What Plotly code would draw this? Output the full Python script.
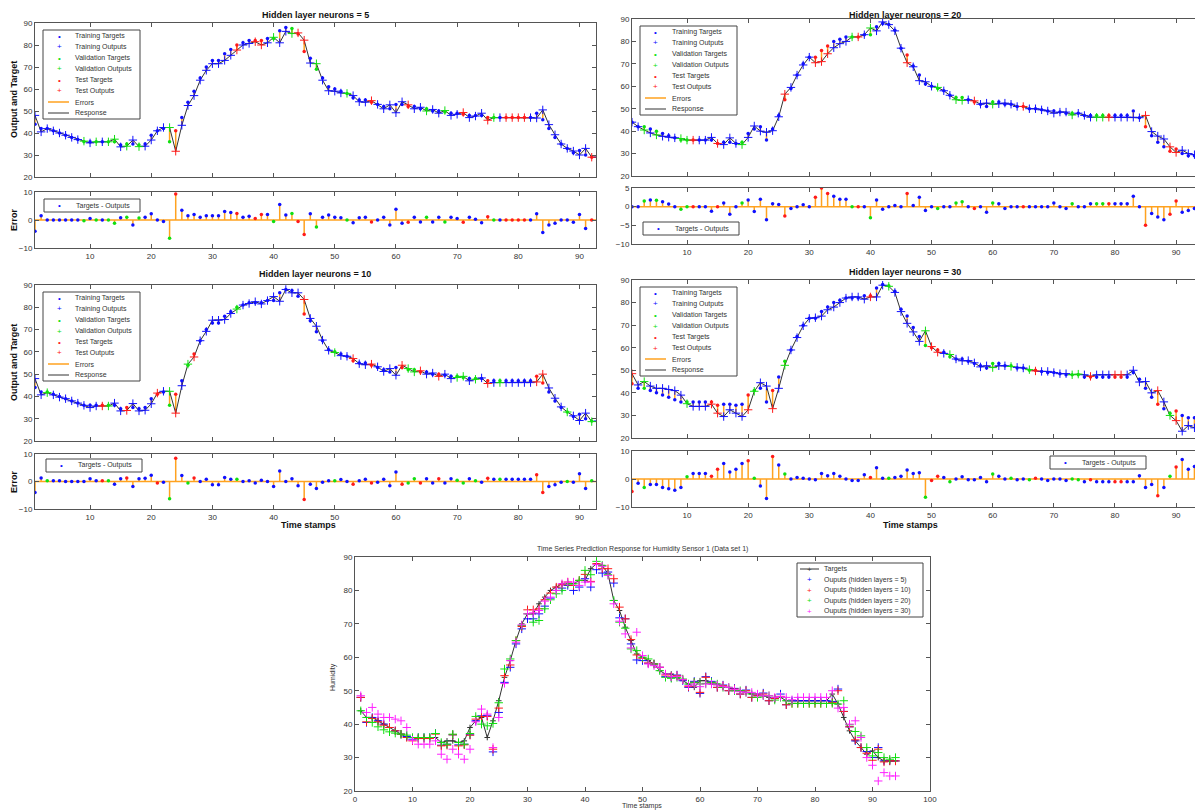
import plotly.graph_objects as go

# the page places the figure 8px in from the top-left corner (default body margin)
OFF = 8
W, H = 1203 - OFF, 811 - OFF

# ---------------- data ----------------
t_stamps = list(range(1, 95))
targets = [44, 42, 42, 41, 40, 39, 38, 37, 36, 36,
           36, 36, 36, 36, 34.5, 35, 35, 34.5, 35, 39,
           41, 42, 36, 41, 47, 54, 59, 65, 70, 73,
           73, 76, 78, 80, 81, 82, 82, 82, 83, 83,
           86.5, 88, 87.5, 85, 77, 74, 69, 65, 61, 60,
           59, 58, 56, 55, 55, 54, 53, 52, 51, 53,
           53, 52, 52, 51, 51, 50, 50, 49.5, 49, 49,
           48.5, 48, 48, 48, 47, 47, 47, 47, 47, 47,
           47, 47, 49, 46, 42, 38, 35, 33, 31, 32,
           30, 29, 29, 29]

# errors = targets - outputs, per network size
err_5 = [-4, 1.5, 0, 0, 0, 0, 0, 0, -0.3, 0.5,
         0, 0, 0, -1.2, 0.8, 1, -1.8, 0.7, 1, 2.2,
         0, -0.5, -6.5, 9.3, 3.5, 1.5, 2, 1, 1.5, 1.5,
         1.5, 3, 2.7, 2.3, 1, 1.3, 0.5, 2, 2, -0.5,
         5.5, 1.8, 2.3, -0.5, -5.2, 2.2, -2.5, 1, 1.8, 1,
         0.8, 0, -1, 0.8, 1, -0.7, 0, 1, -1.8, 3.8,
         -1.2, -0.8, 1, -0.7, 1, -0.7, 1, -0.7, 1, 0.5,
         -0.8, 1, 0.3, -1, 1.2, 0, 0, 0, 0, 0,
         0, 0, 2.2, -4.5, -1.8, -1.2, 0, 0, -0.8, 2,
         -3, 0, 0, 0]
err_10 = [-4, 1.3, 0.3, 0.3, 0.3, 0, 0, 0, 0, 1,
          0.3, 0.3, 0.3, -1, 1, 1.3, -1.8, 1, 1.2, 2.3,
          -0.5, -0.3, -6.3, 8.5, 2.2, -0.5, 1.3, 0, 0.8, -1.2,
          -1.2, 1.5, 0.8, 0.8, 0, 0.3, -0.5, 0.5, 0, -1.8,
          3.8, 0, 1, -1.5, -6.5, -1, -2.5, -0.3, 0.3, 0.3,
          0.7, 0, -1, 0.3, 0.8, -0.5, -0.3, 0.8, -1.5, 3.5,
          -1, -0.5, 1, -0.5, 1, -0.5, 1, -0.5, 1, 0.5,
          -0.5, 1, 0.3, -0.3, 1.2, 0.8, 0.8, 0.8, 0.8, 0.8,
          0.8, 0.8, 2.5, -4, -1.8, -1.2, -0.3, 0, -0.3, 2.8,
          -2.5, 0.3, 0, 0]
err_20 = [0, 0, 1.5, 1.8, 1.7, 1.3, 0.7, 0, -0.7, 0,
          0, 0, 0, -1.2, 0, 1, -2, 0, 1, 1.8,
          -1.3, 2, -3.5, 0.8, 0.6, -2.5, -0.5, 0, 0.5, 0,
          2.5, 5, 3.5, 2.8, 2, 2, 0, 0, 0, -3,
          1.8, -0.7, 0, 0.3, 0, 3.5, 0.3, 2.5, -1, 0,
          -0.5, 0, 0, 1, 1.3, 0, -0.5, 0, -1.5, 1,
          0.8, -0.5, 0, 0, 0, 0, 0, 0, 0, 1,
          0, -0.5, 0.8, 0, 0, 0.8, 0.8, 0.8, 0.8, 0.8,
          0.8, 0.8, 2.8, 0, -5, -1.8, -2.8, -3.5, -2, 1.5,
          -1.5, -1, -0.5, -1]
err_30 = [-4.5, -1.5, -3, -2, -2, -3, -3.5, -4, -3, 0.8,
          2, 2, 2, 1, 3.5, 5.5, 2.5, 3.5, 5.5, 6.5,
          0.3, -2.5, -7, 8, 5, 1.8, 0, 0.5, 0.3, 0,
          -0.3, 2, 1.2, 2, 1, 0, -0.5, -0.5, 1.5, 0.5,
          4, 0.3, 0.3, 0.5, 1, 3.2, 2, 2.2, -6.5, -0.5,
          1, 0.5, -1, 0, 0.8, -0.3, -0.3, 0.5, -1, 1.8,
          1, 0, 0.3, -0.3, 0, -0.3, 0.3, 0, -0.5, 0,
          0, -0.5, 0, -0.3, -1, -0.3, -1, -1, -1, -1,
          -1, -1, -1, 1.2, -3, -2, -6, -3, 1, 4.3,
          7, 3.5, 4.5, 4.5]

# data division: T = training, V = validation, S = test
split_5 = ("TTTTTTTTVT" "VTVVTVTVTT" "TTVSTTTTTT" "TTTSTTSSTV" "TTVSSTVTTT"
           "TVTTTSTTTT" "TSTTVTTVTT" "STTTSVTSSS" "STTTTTTTTT" "TSTT")
split_10 = ("TTVTTTTTTT" "TSVTTSTTTT" "STVSTVSTTT" "TTTVTTTTTT" "TTTTSTTTTV"
            "TTSTTSTTTT" "SVVSTTSTTV" "VTVTSTVTTT" "TTSSTTTVTT" "TVTT")
split_20 = ("TTVTVTTTVV" "STTTSTTTVT" "TTTTTSTTTT" "SSSTTTVSTV" "TTTTTSTTTT"
            "VTTVVTSTTV" "TTTTSTTTTT" "TTVTTTVVST" "TTTTSTTTSS" "TTTT")
split_30 = ("STVTTTTTTV" "TTTSSTTTTS" "VTTSTVTTTT" "TTTTTTTTTS" "TTVTTTTTVS"
            "STVTTTTTTV" "TTVTTVSTTT" "TTVVTSTTTS" "STTTTTSTVS" "TTTV")

main_yticks = [20, 30, 40, 50, 60, 70, 80, 90]
x_ticks = [10, 20, 30, 40, 50, 60, 70, 80, 90]
bottom_xticks = [0, 10, 20, 30, 40, 50, 60, 70, 80, 90, 100]
legend_main = ["Training Targets", "Training Outputs", "Validation Targets",
               "Validation Outputs", "Test Targets", "Test Outputs", "Errors", "Response"]
legend_bottom = ["Targets", "Ouputs (hidden layers = 5)", "Ouputs (hidden layers = 10)",
                 "Ouputs (hidden layers = 20)", "Ouputs (hidden layers = 30)"]

# ---------------- style ----------------
BLUE, GREEN, RED = "#1010FF", "#10E010", "#FF1A1A"
MAGENTA, ORANGE = "#FF20FF", "#FFA21F"
AXC = "#555555"
FONT = "Liberation Sans"
CAT_COLORS = [("T", BLUE), ("V", GREEN), ("S", RED)]


def px(x):
    return (x - OFF) / W


def py(y):
    return 1 - (y - OFF) / H


fig = go.Figure()

axis_common = dict(showline=True, linecolor=AXC, linewidth=1, ticks="inside", ticklen=4,
                   tickcolor=AXC, showgrid=False, zeroline=False, automargin=False,
                   tickfont=dict(size=8, color="#333", family=FONT))

# panels: (neurons, errors, split, main-axis index, err-axis index, x px range,
#          main y px range, err y px range, x range, err range, err ticks, title y)
panels = [
    (5, err_5, split_5, 1, 2, (35, 596), (23, 177), (192, 248), [1, 92.7], [-10, 10], [-10, 0, 10], 8),
    (20, err_20, split_20, 3, 4, (632, 1203), (19, 176), (188, 244), [1, 94.4], [-10, 5], [-10, -5, 0, 5], 8),
    (10, err_10, split_10, 5, 6, (35, 596), (285, 441), (454, 509), [1, 92.7], [-10, 10], [-10, 0, 10], 267),
    (30, err_30, split_30, 7, 8, (632, 1203), (280, 438), (451, 507), [1, 94.4], [-10, 10], [-10, 0, 10], 265),
]

layout_axes = {}
shapes = []
annotations = []


def axname(i, kind):
    return kind if i == 1 else f"{kind}{i}"


def ann(x, y, text, size=7, color="#222", xanchor="left", yanchor="middle", bold=False, angle=0):
    if bold:
        text = f"<b>{text}</b>"
    annotations.append(dict(x=px(x), y=py(y), xref="paper", yref="paper", text=text,
                            showarrow=False, xanchor=xanchor, yanchor=yanchor, textangle=angle,
                            font=dict(size=size, color=color, family=FONT)))


def box(x0, y0, x1, y1):
    shapes.append(dict(type="rect", xref="paper", yref="paper", x0=px(x0), x1=px(x1),
                       y0=py(y1), y1=py(y0), line=dict(color="#444", width=1),
                       fillcolor="white", layer="above"))


def hline(x0, x1, y, color, width=1.5):
    shapes.append(dict(type="line", xref="paper", yref="paper", x0=px(x0), x1=px(x1),
                       y0=py(y), y1=py(y), line=dict(color=color, width=width), layer="above"))


for (n, err, split, im, ie, xpx, ympx, eypx, xr, er, eticks, ty) in panels:
    outs = [t - e for t, e in zip(targets, err)]
    xm, ym = axname(im, "x"), axname(im, "y")
    xe, ye = axname(ie, "x"), axname(ie, "y")
    right = xpx[0] > 600

    # --- main subplot ---
    sx, sy = [], []
    for x, t, o in zip(t_stamps, targets, outs):
        sx += [x, x, None]
        sy += [t, o, None]
    fig.add_trace(go.Scatter(x=sx, y=sy, mode="lines", line=dict(color=ORANGE, width=1.5),
                             xaxis=xm, yaxis=ym, showlegend=False, hoverinfo="skip"))
    fig.add_trace(go.Scatter(x=t_stamps, y=outs, mode="lines", line=dict(color="#333", width=1),
                             xaxis=xm, yaxis=ym, showlegend=False))
    for code, col in CAT_COLORS:
        idx = [i for i, k in enumerate(split) if k == code]
        fig.add_trace(go.Scatter(x=[t_stamps[i] for i in idx], y=[targets[i] for i in idx],
                                 mode="markers", marker=dict(symbol="circle", size=3.5, color=col),
                                 xaxis=xm, yaxis=ym, showlegend=False))
        fig.add_trace(go.Scatter(x=[t_stamps[i] for i in idx], y=[outs[i] for i in idx],
                                 mode="markers",
                                 marker=dict(symbol="cross-thin", size=6, line=dict(color=col, width=1)),
                                 xaxis=xm, yaxis=ym, showlegend=False))

    # --- error subplot ---
    shapes.append(dict(type="line", xref=f"{xe} domain", yref=ye, x0=0, x1=1, y0=0, y1=0,
                       line=dict(color=ORANGE, width=1.5), layer="below"))
    sx, sy = [], []
    for x, e in zip(t_stamps, err):
        sx += [x, x, None]
        sy += [0, e, None]
    fig.add_trace(go.Scatter(x=sx, y=sy, mode="lines", line=dict(color=ORANGE, width=1.5),
                             xaxis=xe, yaxis=ye, showlegend=False, hoverinfo="skip"))
    for code, col in CAT_COLORS:
        idx = [i for i, k in enumerate(split) if k == code]
        fig.add_trace(go.Scatter(x=[t_stamps[i] for i in idx], y=[err[i] for i in idx],
                                 mode="markers", marker=dict(symbol="circle", size=3.5, color=col),
                                 xaxis=xe, yaxis=ye, showlegend=False))

    ymir = False if right else "ticks"
    layout_axes[axname(im, "xaxis")] = dict(axis_common, domain=[px(xpx[0]), px(xpx[1])], range=xr,
                                            anchor=ym, tickvals=x_ticks, showticklabels=False,
                                            mirror="ticks")
    layout_axes[axname(im, "yaxis")] = dict(axis_common, domain=[py(ympx[1]), py(ympx[0])],
                                            range=[20, 90], anchor=xm, tickvals=main_yticks,
                                            mirror=ymir)
    layout_axes[axname(ie, "xaxis")] = dict(axis_common, domain=[px(xpx[0]), px(xpx[1])], range=xr,
                                            anchor=ye, tickvals=x_ticks, mirror="ticks")
    layout_axes[axname(ie, "yaxis")] = dict(axis_common, domain=[py(eypx[1]), py(eypx[0])],
                                            range=er, anchor=xe, tickvals=eticks, mirror=ymir)

    # title
    cx = 905 if right else 315
    ann(cx, ty, f"Hidden layer neurons = {n}", size=9, color="#111",
        xanchor="center", yanchor="top", bold=True)

    # main legend (drawn as a box)
    lx0 = xpx[0] + 8
    ly0 = ympx[0] + 7
    box(lx0, ly0, lx0 + 97, ly0 + 89)
    for r, label in enumerate(legend_main):
        yy = ly0 + 6 + r * 11
        if r < 6:
            col = CAT_COLORS[r // 2][1]
            if r % 2 == 0:
                ann(lx0 + 16, yy, "•", size=8, color=col, xanchor="center")
            else:
                ann(lx0 + 16, yy, "+", size=8, color=col, xanchor="center")
        else:
            hline(lx0 + 5, lx0 + 26, yy, ORANGE if r == 6 else "#333", 1.5 if r == 6 else 1)
        ann(lx0 + 30, yy, label, size=7, color="#333")

# error legends
err_leg = [(44, 199), (643, 222), (46, 459), (1050, 456)]
for (ex0, ey0) in err_leg:
    box(ex0, ey0, ex0 + 96, ey0 + 13)
    ann(ex0 + 15, ey0 + 6.5, "•", size=8, color=BLUE, xanchor="center")
    ann(ex0 + 30, ey0 + 6.5, "Targets - Outputs", size=7, color="#333")

# axis titles for left column
ann(14, 100, "Output and Target", size=9, color="#111", xanchor="center", bold=True, angle=-90)
ann(14, 220, "Error", size=9, color="#111", xanchor="center", bold=True, angle=-90)
ann(14, 363, "Output and Target", size=9, color="#111", xanchor="center", bold=True, angle=-90)
ann(14, 482, "Error", size=9, color="#111", xanchor="center", bold=True, angle=-90)
ann(308, 525, "Time stamps", size=9, color="#111", xanchor="center", bold=True)
ann(910, 525, "Time stamps", size=9, color="#111", xanchor="center", bold=True)

# ---------------- bottom chart ----------------
fig.add_trace(go.Scatter(x=t_stamps, y=targets, mode="lines+markers",
                         line=dict(color="#333", width=1),
                         marker=dict(symbol="cross-thin", size=4, line=dict(color="#333", width=1)),
                         xaxis="x9", yaxis="y9", showlegend=False))
for err, col in [(err_5, BLUE), (err_10, RED), (err_20, GREEN), (err_30, MAGENTA)]:
    outs = [t - e for t, e in zip(targets, err)]
    fig.add_trace(go.Scatter(x=t_stamps, y=outs, mode="markers",
                             marker=dict(symbol="cross-thin", size=6, line=dict(color=col, width=1)),
                             xaxis="x9", yaxis="y9", showlegend=False))

layout_axes["xaxis9"] = dict(axis_common, domain=[px(355), px(930)], range=[0, 100], anchor="y9",
                             tickvals=bottom_xticks, mirror="ticks")
layout_axes["yaxis9"] = dict(axis_common, domain=[py(791), py(557)], range=[20, 90], anchor="x9",
                             tickvals=main_yticks, mirror="ticks")
ann(642, 549, "Time Series Prediction Response for Humidity Sensor 1 (Data set 1)", size=7,
    color="#333", xanchor="center")
ann(333, 677, "Humidity", size=7, color="#333", xanchor="center", angle=-90)
ann(642, 806, "Time stamps", size=7, color="#333", xanchor="center")

bx0, by0 = 797, 563
box(bx0, by0, bx0 + 126, by0 + 54)
bcols = ["#333", BLUE, RED, GREEN, MAGENTA]
for r, label in enumerate(legend_bottom):
    yy = by0 + 6 + r * 10.5
    if r == 0:
        hline(bx0 + 3, bx0 + 22, yy, "#333", 1)
    ann(bx0 + 12.5, yy, "+", size=8, color=bcols[r], xanchor="center")
    ann(bx0 + 25, yy, label, size=7, color="#333")

fig.update_layout(width=W, height=H, margin=dict(l=0, r=0, t=0, b=0),
                  paper_bgcolor="white", plot_bgcolor="white", showlegend=False,
                  shapes=shapes, annotations=annotations, **layout_axes)

fig.write_html("out.html")
